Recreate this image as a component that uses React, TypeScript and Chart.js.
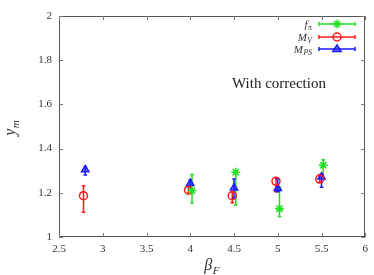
import React, { useEffect, useRef } from "react";
import { Chart, registerables } from "chart.js";

Chart.register(...registerables);

document.body.style.margin = "0";

// f_pi
const fpiX = [4.02, 4.52, 5.02, 5.52];
const fpiY = [1.21, 1.293, 1.128, 1.325];
const fpiLo = [1.154, 1.145, 1.093, 1.262];
const fpiHi = [1.283, 1.298, 1.225, 1.35];

// M_V
const mvX = [2.78, 3.98, 4.48, 4.98, 5.48];
const mvY = [1.187, 1.212, 1.187, 1.252, 1.262];
const mvLo = [1.112, 1.2, 1.155, 1.205, 1.248];
const mvHi = [1.232, 1.226, 1.205, 1.268, 1.282];

// M_PS
const mpsX = [2.8, 4.0, 4.5, 5.0, 5.5];
const mpsY = [1.305, 1.243, 1.222, 1.22, 1.272];
const mpsLo = [1.28, 1.222, 1.176, 1.205, 1.225];
const mpsHi = [1.318, 1.258, 1.262, 1.262, 1.285];

const xTicks = [2.5, 3, 3.5, 4, 4.5, 5, 5.5, 6];
const yTicks = [1, 1.2, 1.4, 1.6, 1.8, 2];

const GREEN = "#22dd22";
const RED = "#ff1a1a";
const BLUE = "#1a1aff";
const SERIF = "'Liberation Serif', 'DejaVu Serif', serif";

const seriesInfo = [
  { name: "f", sub: "π", color: GREEN, style: "star", lo: fpiLo, hi: fpiHi, subItalic: false },
  { name: "M", sub: "V", color: RED, style: "circle", lo: mvLo, hi: mvHi, subItalic: true },
  { name: "M", sub: "PS", color: BLUE, style: "triangle", lo: mpsLo, hi: mpsHi, subItalic: true },
];

function toPts(xs: number[], ys: number[]) {
  return xs.map((x, i) => ({ x, y: ys[i] }));
}

function drawSubText(ctx: CanvasRenderingContext2D, main: string, sub: string, x: number, y: number, size: number, align: "left" | "right" | "center", subItalic = true) {
  const subFont = `${subItalic ? "italic " : ""}${size * 0.7}px ${SERIF}`;
  ctx.font = `italic ${size}px ${SERIF}`;
  const w1 = ctx.measureText(main).width;
  ctx.font = subFont;
  const w2 = ctx.measureText(sub).width;
  const total = w1 + w2 + 0.5;
  let sx = x;
  if (align === "right") sx = x - total;
  if (align === "center") sx = x - total / 2;
  ctx.textAlign = "left";
  ctx.textBaseline = "alphabetic";
  ctx.font = `italic ${size}px ${SERIF}`;
  ctx.fillText(main, sx, y);
  ctx.font = subFont;
  ctx.fillText(sub, sx + w1 + 0.5, y + size * 0.25);
}

function drawMarker(ctx: CanvasRenderingContext2D, style: string, color: string, x: number, y: number) {
  ctx.strokeStyle = color;
  ctx.lineWidth = 1.5;
  ctx.beginPath();
  if (style === "star") {
    const r = 4.5;
    ctx.moveTo(x - r, y); ctx.lineTo(x + r, y);
    ctx.moveTo(x, y - r); ctx.lineTo(x, y + r);
    const d = r * 0.707;
    ctx.moveTo(x - d, y - d); ctx.lineTo(x + d, y + d);
    ctx.moveTo(x - d, y + d); ctx.lineTo(x + d, y - d);
    ctx.stroke();
  } else if (style === "circle") {
    ctx.arc(x, y, 4, 0, Math.PI * 2);
    ctx.stroke();
  } else {
    const r = 4.2;
    ctx.moveTo(x, y - r);
    ctx.lineTo(x + r * 0.866 * 1.15, y + r * 0.6);
    ctx.lineTo(x - r * 0.866 * 1.15, y + r * 0.6);
    ctx.closePath();
    ctx.fillStyle = "rgba(26,26,255,0.55)";
    ctx.fill();
    ctx.stroke();
  }
}

function drawErrBar(ctx: CanvasRenderingContext2D, x: number, y1: number, y2: number, color: string) {
  ctx.strokeStyle = color;
  ctx.lineWidth = 1.5;
  ctx.beginPath();
  ctx.moveTo(x, y1);
  ctx.lineTo(x, y2);
  ctx.moveTo(x - 1.8, y1);
  ctx.lineTo(x + 1.8, y1);
  ctx.moveTo(x - 1.8, y2);
  ctx.lineTo(x + 1.8, y2);
  ctx.stroke();
}

const framePlugin = {
  id: "frame",
  beforeDatasetsDraw(chart: any) {
    const ctx = chart.ctx as CanvasRenderingContext2D;
    const xs = chart.scales.x;
    const ys = chart.scales.y;
    ctx.save();
    seriesInfo.forEach((s, di) => {
      const data = chart.data.datasets[di].data as { x: number; y: number }[];
      data.forEach((p, i) => {
        const px = xs.getPixelForValue(p.x);
        drawErrBar(ctx, px, ys.getPixelForValue(s.lo[i]), ys.getPixelForValue(s.hi[i]), s.color);
      });
    });
    ctx.restore();
  },
  afterDraw(chart: any) {
    const ctx = chart.ctx as CanvasRenderingContext2D;
    const { left, right, top, bottom } = chart.chartArea;
    const xs = chart.scales.x;
    const ys = chart.scales.y;
    ctx.save();
    // frame
    ctx.strokeStyle = "#555";
    ctx.lineWidth = 1;
    ctx.strokeRect(Math.round(left) + 0.5, Math.round(top) + 0.5, Math.round(right - left) - 1, Math.round(bottom - top) - 1);
    // inner ticks
    ctx.strokeStyle = "#777";
    ctx.beginPath();
    xTicks.forEach((t) => {
      const px = Math.round(xs.getPixelForValue(t)) + 0.5;
      ctx.moveTo(px, bottom);
      ctx.lineTo(px, bottom - 4);
      ctx.moveTo(px, top);
      ctx.lineTo(px, top + 4);
    });
    yTicks.forEach((t) => {
      const py = Math.round(ys.getPixelForValue(t)) + 0.5;
      ctx.moveTo(left, py);
      ctx.lineTo(left + 4, py);
      ctx.moveTo(right, py);
      ctx.lineTo(right - 4, py);
    });
    ctx.stroke();

    // legend
    const rows = [24, 37, 49];
    seriesInfo.forEach((s, i) => {
      const y = rows[i];
      ctx.fillStyle = "#333";
      drawSubText(ctx, s.name, s.sub, 312, y + 3.5, 11, "right", s.subItalic);
      ctx.strokeStyle = s.color;
      ctx.lineWidth = 1.5;
      ctx.beginPath();
      ctx.moveTo(319, y);
      ctx.lineTo(355, y);
      ctx.moveTo(319, y - 2);
      ctx.lineTo(319, y + 2);
      ctx.moveTo(355, y - 2);
      ctx.lineTo(355, y + 2);
      ctx.stroke();
      drawMarker(ctx, s.style, s.color, 337, y);
    });

    // annotation
    ctx.fillStyle = "#222";
    ctx.font = `15px ${SERIF}`;
    ctx.textAlign = "left";
    ctx.textBaseline = "alphabetic";
    ctx.fillText("With correction", 232, 88);

    // axis titles
    ctx.fillStyle = "#333";
    drawSubText(ctx, "β", "F", 212, 270, 16, "center");
    ctx.translate(15, 128);
    ctx.rotate(-Math.PI / 2);
    drawSubText(ctx, "y", "m", 0, 0, 16, "center");
    ctx.restore();
  },
};

export default function App() {
  const ref = useRef<HTMLCanvasElement | null>(null);
  useEffect(() => {
    if (!ref.current) return;
    const chart = new Chart(ref.current, {
      type: "scatter",
      data: {
        datasets: [
          {
            label: "f_pi",
            data: toPts(fpiX, fpiY),
            pointStyle: "star",
            radius: 4.5,
            borderColor: GREEN,
            backgroundColor: GREEN,
            borderWidth: 1.5,
          },
          {
            label: "M_V",
            data: toPts(mvX, mvY),
            pointStyle: "circle",
            radius: 4,
            borderColor: RED,
            backgroundColor: "rgba(0,0,0,0)",
            borderWidth: 1.5,
          },
          {
            label: "M_PS",
            data: toPts(mpsX, mpsY),
            pointStyle: "triangle",
            radius: 4.2,
            borderColor: BLUE,
            backgroundColor: "rgba(26,26,255,0.55)",
            borderWidth: 1.5,
          },
        ] as any,
      },
      options: {
        animation: false,
        responsive: false,
        maintainAspectRatio: false,
        layout: { padding: { top: 16, right: 6, left: 0, bottom: 0 } },
        plugins: { legend: { display: false }, tooltip: { enabled: false } },
        scales: {
          x: {
            type: "linear",
            min: 2.5,
            max: 6,
            afterBuildTicks: (scale: any) => {
              scale.ticks = xTicks.map((v) => ({ value: v }));
            },
            afterFit: (scale: any) => {
              scale.height = 38;
            },
            grid: { display: false, drawTicks: false },
            border: { display: false },
            ticks: {
              padding: 6,
              color: "#333",
              font: { family: SERIF, size: 11 },
              callback: (v: any) => String(v),
              maxRotation: 0,
            },
          },
          y: {
            type: "linear",
            min: 1,
            max: 2,
            afterBuildTicks: (scale: any) => {
              scale.ticks = yTicks.map((v) => ({ value: v }));
            },
            afterFit: (scale: any) => {
              scale.width = 59;
            },
            grid: { display: false, drawTicks: false },
            border: { display: false },
            ticks: {
              padding: 7,
              color: "#333",
              font: { family: SERIF, size: 11 },
              callback: (v: any) => String(v),
            },
          },
        },
      },
      plugins: [framePlugin],
    } as any);
    return () => chart.destroy();
  }, []);
  return (
    <div style={{ width: 374, height: 275 }}>
      <canvas ref={ref} width={374} height={275} style={{ display: "block" }} />
    </div>
  );
}
